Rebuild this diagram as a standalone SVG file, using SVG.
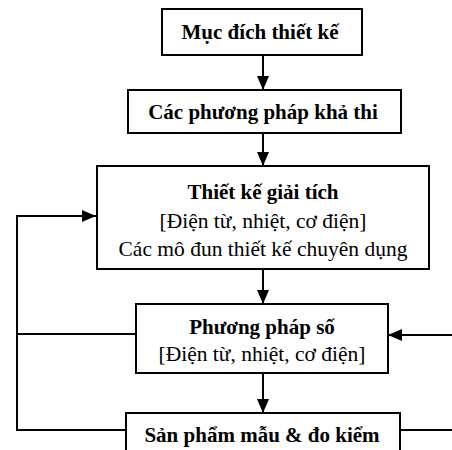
<svg xmlns="http://www.w3.org/2000/svg" width="452" height="450" viewBox="0 0 452 450">
<style>
.box{fill:#fff;stroke:#000;stroke-width:2}
.ln{fill:none;stroke:#000;stroke-width:2}
text{font-family:"Liberation Serif","Times New Roman",serif;font-size:21.5px;fill:#000;text-anchor:middle}
.b{font-weight:bold;font-size:21px}
</style>
<defs>
<marker id="ah" viewBox="0 0 14 12" refX="14" refY="6" markerWidth="14" markerHeight="12" markerUnits="userSpaceOnUse" orient="auto">
<path d="M0,0 L14,6 L0,12 Z" fill="#000"/>
</marker>
</defs>
<rect width="452" height="450" fill="#fff"/>
<g id="connectors">
<line class="ln" x1="263" y1="55" x2="263" y2="90" marker-end="url(#ah)"/>
<line class="ln" x1="263" y1="133" x2="263" y2="166" marker-end="url(#ah)"/>
<line class="ln" x1="263" y1="269" x2="263" y2="304" marker-end="url(#ah)"/>
<line class="ln" x1="263" y1="373" x2="263" y2="413" marker-end="url(#ah)"/>
<polyline class="ln" points="126,430 17,430 17,216 96,216" marker-end="url(#ah)"/>
<line class="ln" x1="136" y1="334" x2="17" y2="334"/>
<line class="ln" x1="452" y1="335" x2="388" y2="335" marker-end="url(#ah)"/>
<line class="ln" x1="400" y1="430" x2="452" y2="430"/>
</g>
<g id="n1">
<rect class="box" x="162" y="9" width="200" height="46"/>
<text class="b" x="260" y="39">Mục đích thiết kế</text>
</g>
<g id="n2">
<rect class="box" x="128" y="90" width="273" height="43"/>
<text class="b" x="263" y="119">Các phương pháp khả thi</text>
</g>
<g id="n3">
<rect class="box" x="97" y="166" width="332" height="103"/>
<text class="b" x="263" y="199">Thiết kế giải tích</text>
<text x="263" y="228">[Điện từ, nhiệt, cơ điện]</text>
<text x="263" y="256">Các mô đun thiết kế chuyên dụng</text>
</g>
<g id="n4">
<rect class="box" x="136" y="304" width="252" height="69"/>
<text class="b" x="262" y="334">Phương pháp số</text>
<text x="262" y="361">[Điện từ, nhiệt, cơ điện]</text>
</g>
<g id="n5">
<rect class="box" x="126" y="413" width="274" height="60"/>
<text class="b" x="262" y="442">Sản phẩm mẫu &amp; đo kiểm</text>
</g>
</svg>
